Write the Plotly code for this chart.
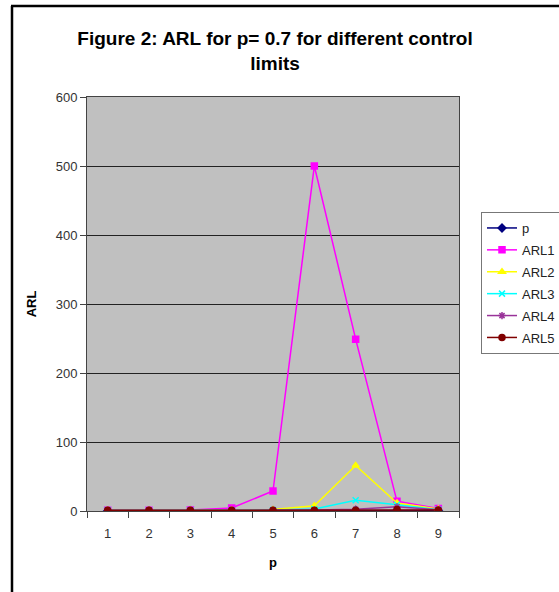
import plotly.graph_objects as go

categories = [1, 2, 3, 4, 5, 6, 7, 8, 9]
p_vals = [0.1, 0.2, 0.3, 0.4, 0.5, 0.6, 0.7, 0.8, 0.9]
arl1 = [1.1, 1.2, 1.5, 4.3, 29, 500, 249, 14, 3.8]
arl2 = [1.0, 1.0, 1.1, 1.3, 2.0, 7.7, 66, 11.5, 3.0]
arl3 = [1.0, 1.0, 1.0, 1.1, 1.3, 3.0, 15.5, 9.0, 2.0]
arl4 = [1.0, 1.0, 1.0, 1.0, 1.1, 1.3, 2.5, 6.0, 1.8]
arl5 = [1.0, 1.0, 1.0, 1.0, 1.0, 1.0, 1.2, 2.0, 1.5]

series = [
    ("p", p_vals, "#000080", "diamond", 6),
    ("ARL1", arl1, "#FF00FF", "square", 6),
    ("ARL2", arl2, "#FFFF00", "triangle-up", 6),
    ("ARL3", arl3, "#00FFFF", "x-thin", 6),
    ("ARL4", arl4, "#993399", "asterisk", 6),
    ("ARL5", arl5, "#800000", "circle", 6),
]

fig = go.Figure()
for name, vals, color, sym, size in series:
    fig.add_trace(go.Scatter(
        x=categories, y=vals, name=name, mode="lines+markers",
        legendgroup=name,
        line=dict(color=color, width=1.5),
        marker=dict(symbol=sym, size=size, color=color,
                    line=dict(color=color, width=1.5)),
    ))

L, R, T, B = 87, 100, 97, 81
W, H = 559, 592
pw, ph = W - L - R, H - T - B

fig.update_layout(
    width=W, height=H,
    margin=dict(l=L, r=R, t=T, b=B, autoexpand=False),
    paper_bgcolor="white",
    plot_bgcolor="#C0C0C0",
    font=dict(family="Liberation Sans, Arial, sans-serif", size=13, color="#333333"),
    title=dict(
        text="<b>Figure 2: ARL for p= 0.7 for different control<br>limits</b>",
        x=0.492, xanchor="center", xref="container",
        y=1 - 45 / H, yanchor="top", yref="container",
        font=dict(size=19, color="black", family="Liberation Sans, Arial, sans-serif"),
    ),
    showlegend=True,
    legend=dict(
        x=(481 - L) / pw, xanchor="left",
        y=(H - B - 212) / ph, yanchor="top",
        bgcolor="white", bordercolor="#777777", borderwidth=1,
        font=dict(size=13, color="#222222"),
        tracegroupgap=2, itemwidth=30,
    ),
    xaxis=dict(
        range=[0.5, 9.5], tickvals=categories, ticktext=[str(c) for c in categories],
        ticks="", showgrid=False, zeroline=False, ticklabelstandoff=10,
        showline=True, linecolor="#444444", linewidth=1, mirror=True,
        minor=dict(ticks="outside", tick0=0.5, dtick=1, ticklen=6, tickcolor="#444444", showgrid=False),
        title=dict(text="<b>p</b>", font=dict(size=13, color="black"), standoff=18),
        fixedrange=True,
    ),
    yaxis=dict(
        range=[0, 600], dtick=100, ticks="outside", ticklen=6, tickcolor="#444444",
        showgrid=True, gridcolor="#222222", gridwidth=1, zeroline=False,
        showline=True, linecolor="#444444", linewidth=1, mirror=True,
        title=dict(text="<b>ARL</b>", font=dict(size=13, color="black"), standoff=16),
        fixedrange=True,
    ),
)

# outer chart frame (top and left edges visible)
fig.add_shape(type="line", xref="paper", yref="paper",
              x0=(11 - L) / pw, x1=(W + 5 - L) / pw,
              y0=(H - B - 6) / ph, y1=(H - B - 6) / ph,
              line=dict(color="black", width=2.5))
fig.add_shape(type="line", xref="paper", yref="paper",
              x0=(12 - L) / pw, x1=(12 - L) / pw,
              y0=(H - B - 6) / ph, y1=(H - B - H - 10) / ph,
              line=dict(color="black", width=2.5))

fig.write_html("out.html")
